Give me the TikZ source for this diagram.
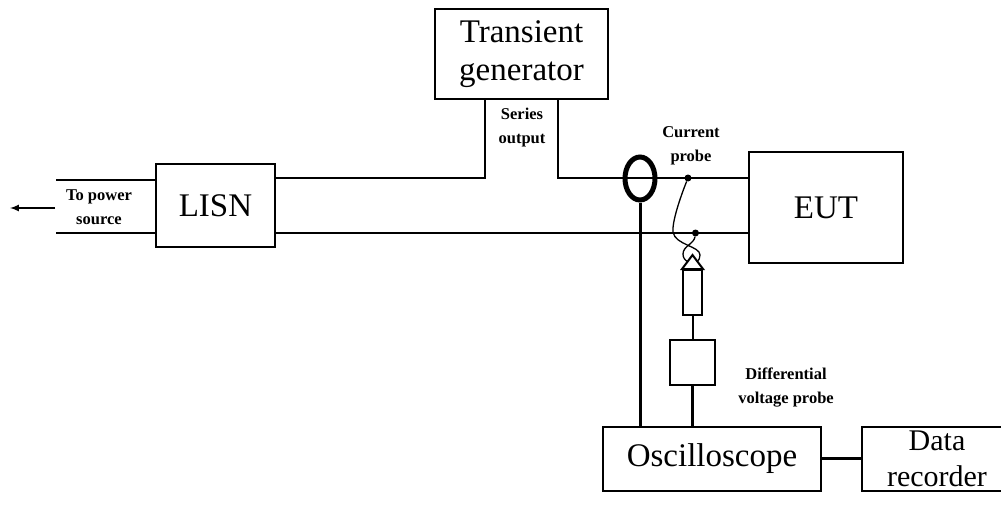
\documentclass[tikz,border=0pt]{standalone}
\usepackage{fontspec}
\usetikzlibrary{shapes.geometric}
\setmainfont{Liberation Serif}
\tikzset{
  blockbox/.style={draw,line width=2pt,inner sep=0pt,align=center,font=\fontsize{33}{38}\selectfont},
  wire/.style={line width=2pt},
  thickwire/.style={line width=3pt},
  caption/.style={align=center,inner sep=0pt,font=\fontsize{16.5}{24}\selectfont\bfseries},
  joint/.style={circle,fill=black,inner sep=0pt,minimum size=7pt},
}
\begin{document}
\begin{tikzpicture}[x=1pt,y=-1pt]
  \useasboundingbox (0,0) rectangle (1001,506);

  \node[blockbox,minimum width=173pt,minimum height=90pt] (gen) at (521.5,54) {Transient\\generator};
  \node[blockbox,minimum width=119pt,minimum height=83pt] (lisn) at (215.5,205.5) {LISN};
  \node[blockbox,minimum width=154pt,minimum height=111pt] (eut) at (826,207.5) {EUT};
  \node[blockbox,minimum width=218pt,minimum height=64pt] (osc) at (712,459) {Oscilloscope};
  \node[blockbox,minimum width=150pt,minimum height=64pt,font=\fontsize{30}{36}\selectfont] (rec) at (937,459) {Data\\recorder};
  \node[blockbox,minimum width=45pt,minimum height=45pt] (diff) at (692.5,362.5) {};
  \node[draw,line width=2pt,inner sep=0pt,minimum width=19pt,minimum height=45pt] (tube) at (692.5,292.5) {};
  \node[draw,line width=5pt,ellipse,inner sep=0pt,minimum width=30pt,minimum height=43pt] (ring) at (640,178.5) {};

  \coordinate (lisnA) at (lisn.east |- 0,178);
  \coordinate (lisnB) at (lisn.east |- 0,233);
  \coordinate (eutA) at (eut.west |- 0,178);
  \coordinate (eutB) at (eut.west |- 0,233);
  \coordinate (genA) at (485,99);
  \coordinate (genB) at (558,99);
  \coordinate (tip) at (692.5,255);
  \coordinate (srcA) at (56,180);
  \coordinate (srcB) at (56,233);
  \coordinate (srcC) at (156,180);
  \coordinate (srcD) at (156,233);
  \coordinate (arrowEnd) at (10,208);
  \coordinate (arrowStart) at (55,208);
  \node[joint] (jointA) at (688,178) {};
  \node[joint] (jointB) at (695.5,233) {};

  \draw[wire] (lisnA) -| (genA);
  \draw[wire] (genB) |- (eutA);
  \draw[wire] (lisnB) -- (eutB);
  \draw[wire] (srcA) -- (srcC);
  \draw[wire] (srcB) -- (srcD);
  \draw[wire,-latex] (arrowStart) -- (arrowEnd);
  \draw[thickwire] (ring.south) -- (ring.south |- osc.north);
  \draw[thickwire] (diff.south) -- (diff.south |- osc.north);
  \draw[wire] (tube.south) -- (diff.north);
  \draw[thickwire] (osc.east |- 0,458) -- (rec.west |- 0,458);
  \draw[wire] (tube.north west) -- (tip) -- (tube.north east) -- cycle;
  \draw[line width=1.3pt] (jointA) .. controls (680,198) and (672,222) .. (673,232)
     .. controls (675,245) and (700,246) .. (700,255)
     .. controls (700,258) and (699,260) .. (697,262);
  \draw[line width=1.3pt] (jointB) .. controls (694,244) and (683,246) .. (683,254)
     .. controls (683,258) and (685,260) .. (688,262);

  \node[caption] (powerText) at (99,207) {To power\\source};
  \node[caption] (seriesText) at (522,128) {Series\\output};
  \node[caption] (currentText) at (691,146) {Current\\probe};
  \node[caption] (diffText) at (786,388) {Differential\\voltage probe};
\end{tikzpicture}
\end{document}
